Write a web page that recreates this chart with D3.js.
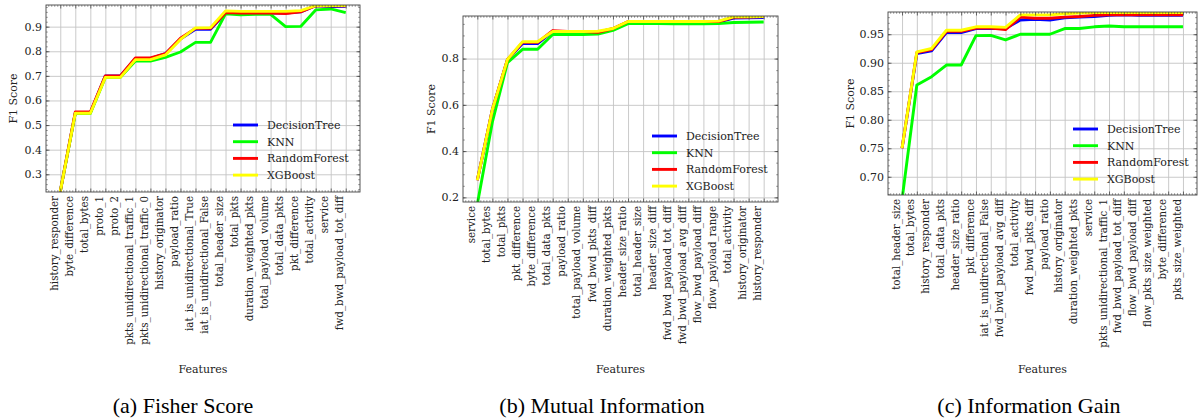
<!DOCTYPE html>
<html>
<head>
<meta charset="utf-8">
<script src="https://cdn.jsdelivr.net/npm/d3@7"></script>
<style>
  body { margin: 0; background: #fff; }
  svg { display: block; }
  svg text { font-family: 'DejaVu Serif', 'Liberation Serif', serif; fill: #222; }
</style>
</head>
<body>
<svg width="1198" height="420"></svg>
<script>
// (a) Fisher Score
const featuresFisher = ['history_responder', 'byte_difference', 'total_bytes', 'proto_1', 'proto_2',
  'pkts_unidirectional_traffic_1', 'pkts_unidirectional_traffic_0', 'history_originator', 'payload_ratio',
  'iat_is_unidirectional_True', 'iat_is_unidirectional_False', 'total_header_size', 'total_pkts',
  'duration_weighted_pkts', 'total_payload_volume', 'total_data_pkts', 'pkt_difference', 'total_activity',
  'service', 'fwd_bwd_payload_tot_diff']
const dtFisher = [0.23, 0.55, 0.55, 0.70, 0.70, 0.77, 0.77, 0.79, 0.85, 0.889, 0.889, 0.955, 0.955, 0.955, 0.955, 0.955, 0.96, 0.985, 0.982, 0.983]
const knnFisher = [0.23, 0.547, 0.547, 0.694, 0.694, 0.76, 0.76, 0.775, 0.797, 0.836, 0.836, 0.952, 0.948, 0.95, 0.95, 0.90, 0.901, 0.968, 0.972, 0.957]
const rfFisher = [0.23, 0.553, 0.553, 0.70, 0.70, 0.773, 0.773, 0.79, 0.853, 0.893, 0.893, 0.957, 0.955, 0.955, 0.955, 0.953, 0.96, 0.985, 0.985, 0.985]
const xgbFisher = [0.23, 0.548, 0.548, 0.694, 0.694, 0.766, 0.766, 0.785, 0.848, 0.895, 0.896, 0.964, 0.962, 0.962, 0.962, 0.962, 0.965, 0.985, 0.986, 0.986]
const ticksFisher = [0.3, 0.4, 0.5, 0.6, 0.7, 0.8, 0.9]

// (b) Mutual Information
const featuresMutual = ['service', 'total_bytes', 'total_pkts', 'pkt_difference', 'byte_difference',
  'total_data_pkts', 'payload_ratio', 'total_payload_volume', 'fwd_bwd_pkts_diff', 'duration_weighted_pkts',
  'header_size_ratio', 'total_header_size', 'header_size_diff', 'fwd_bwd_payload_tot_diff',
  'fwd_bwd_payload_avg_diff', 'flow_bwd_payload_diff', 'flow_payload_range', 'total_activity',
  'history_originator', 'history_responder']
const dtMutual = [0.274, 0.58, 0.795, 0.865, 0.865, 0.917, 0.917, 0.917, 0.915, 0.928, 0.958, 0.958, 0.958, 0.958, 0.958, 0.958, 0.958, 0.975, 0.976, 0.977]
const knnMutual = [0.17, 0.526, 0.782, 0.84, 0.84, 0.904, 0.904, 0.904, 0.906, 0.922, 0.951, 0.951, 0.951, 0.95, 0.95, 0.95, 0.951, 0.956, 0.957, 0.958]
const rfMutual = [0.274, 0.58, 0.796, 0.87, 0.87, 0.921, 0.917, 0.917, 0.913, 0.93, 0.96, 0.96, 0.96, 0.96, 0.96, 0.96, 0.96, 0.978, 0.979, 0.982]
const xgbMutual = [0.274, 0.58, 0.796, 0.873, 0.873, 0.917, 0.917, 0.917, 0.918, 0.93, 0.96, 0.96, 0.96, 0.96, 0.96, 0.96, 0.962, 0.98, 0.981, 0.982]
const ticksMutual = [0.2, 0.4, 0.6, 0.8]

// (c) Information Gain
const featuresGain = ['total_header_size', 'total_bytes', 'history_responder', 'total_data_pkts',
  'header_size_ratio', 'pkt_difference', 'iat_is_unidirectional_False', 'fwd_bwd_payload_avg_diff',
  'total_activity', 'fwd_bwd_pkts_diff', 'payload_ratio', 'history_originator', 'duration_weighted_pkts',
  'service', 'pkts_unidirectional_traffic_1', 'fwd_bwd_payload_tot_diff', 'flow_bwd_payload_diff',
  'flow_pkts_size_weighted', 'byte_difference', 'pkts_size_weighted']
const dtGain = [0.75, 0.916, 0.921, 0.953, 0.953, 0.96, 0.96, 0.96, 0.975, 0.976, 0.975, 0.979, 0.98, 0.981, 0.983, 0.984, 0.983, 0.983, 0.983, 0.983]
const knnGain = [0.66, 0.861, 0.8755, 0.896, 0.896, 0.9475, 0.948, 0.94, 0.95, 0.95, 0.95, 0.96, 0.96, 0.963, 0.9645, 0.963, 0.963, 0.963, 0.963, 0.963]
const rfGain = [0.75, 0.918, 0.923, 0.955, 0.955, 0.961, 0.961, 0.958, 0.98, 0.978, 0.978, 0.98, 0.981, 0.983, 0.984, 0.984, 0.984, 0.984, 0.984, 0.984]
const xgbGain = [0.75, 0.919, 0.925, 0.957, 0.957, 0.963, 0.963, 0.962, 0.984, 0.984, 0.984, 0.986, 0.987, 0.988, 0.988, 0.988, 0.988, 0.988, 0.988, 0.988]
const ticksGain = [0.70, 0.75, 0.80, 0.85, 0.90, 0.95]

const modelNames = ['DecisionTree', 'KNN', 'RandomForest', 'XGBoost']
const modelColors = ['#0000ff', '#00ff00', '#ff0000', '#ffff00']

const serif = "'DejaVu Serif', 'Liberation Serif', serif"
const svg = d3.select('svg')

const panels = [
  { id: 'a', caption: '(a) Fisher Score', features: featuresFisher, series: [dtFisher, knnFisher, rfFisher, xgbFisher],
    ticks: ticksFisher, fmt: '.1f', minor: 0.02, domain: [0.228, 0.988],
    left: 46, right: 360, top: 5, bottom: 192, legend: [233, 125], ylab: 13, capX: 183 },
  { id: 'b', caption: '(b) Mutual Information', features: featuresMutual, series: [dtMutual, knnMutual, rfMutual, xgbMutual],
    ticks: ticksMutual, fmt: '.1f', minor: 0.05, domain: [0.18, 0.984],
    left: 463, right: 778, top: 16, bottom: 202, legend: [652, 136], ylab: 431, capX: 602 },
  { id: 'c', caption: '(c) Information Gain', features: featuresGain, series: [dtGain, knnGain, rfGain, xgbGain],
    ticks: ticksGain, fmt: '.2f', minor: 0.01, domain: [0.668, 0.989],
    left: 888, right: 1197, top: 12, bottom: 195, legend: [1073, 129], ylab: 850, capX: 1029 }
]

panels.forEach(function(p) {
  const n = p.features.length
  const x = d3.scaleLinear().domain([-0.95, n - 1 + 0.95]).range([p.left, p.right])
  const y = d3.scaleLinear().domain(p.domain).range([p.bottom, p.top])
  const g = svg.append('g')
  const w = p.right - p.left
  const h = p.bottom - p.top

  svg.append('clipPath').attr('id', 'clip-' + p.id)
    .append('rect').attr('x', p.left).attr('y', p.top).attr('width', w).attr('height', h)

  // grid
  g.append('g')
    .attr('transform', `translate(0, ${p.bottom})`)
    .call(d3.axisBottom(x).tickValues(d3.range(n)).tickSize(-h).tickFormat(''))
    .call(a => a.select('.domain').remove())
    .selectAll('line').attr('stroke', '#c4c4c4').attr('stroke-width', 0.9)
  g.append('g')
    .attr('transform', `translate(${p.left}, 0)`)
    .call(d3.axisLeft(y).tickValues(p.ticks).tickSize(-w).tickFormat(''))
    .call(a => a.select('.domain').remove())
    .selectAll('line').attr('stroke', '#c4c4c4').attr('stroke-width', 0.9)

  // lines
  const line = d3.line().x((d, i) => x(i)).y(d => y(d))
  const lines = g.append('g').attr('clip-path', `url(#clip-${p.id})`)
  p.series.forEach(function(s, k) {
    lines.append('path')
      .datum(s)
      .attr('d', line)
      .attr('fill', 'none')
      .attr('stroke', modelColors[k])
      .attr('stroke-width', 2.9)
      .attr('stroke-linejoin', 'round')
  })

  // inward ticks on all four sides
  const minorY = d3.range(Math.ceil(p.domain[0] / p.minor) * p.minor, p.domain[1], p.minor)
  const minorX = d3.range(-0.8, n - 1 + 0.95, 0.2).filter(v => Math.abs(v - Math.round(v)) > 0.01)
  const tickAxes = [
    [d3.axisLeft(y), `translate(${p.left},0)`, p.ticks, minorY],
    [d3.axisRight(y), `translate(${p.right},0)`, p.ticks, minorY],
    [d3.axisBottom(x), `translate(0,${p.bottom})`, d3.range(n), minorX],
    [d3.axisTop(x), `translate(0,${p.top})`, d3.range(n), minorX]
  ]
  tickAxes.forEach(function(t) {
    g.append('g').attr('transform', t[1])
      .call(t[0].tickValues(t[2]).tickSize(-3.5).tickFormat(''))
      .call(a => a.select('.domain').remove())
      .selectAll('line').attr('stroke', '#333').attr('stroke-width', 0.7)
    g.append('g').attr('transform', t[1])
      .call(t[0].tickValues(t[3]).tickSize(-1.8).tickFormat(''))
      .call(a => a.select('.domain').remove())
      .selectAll('line').attr('stroke', '#333').attr('stroke-width', 0.5)
  })

  // frame
  g.append('rect')
    .attr('x', p.left).attr('y', p.top).attr('width', w).attr('height', h)
    .attr('fill', 'none').attr('stroke', '#444').attr('stroke-width', 0.9)

  // y tick labels
  g.selectAll('.ylab')
    .data(p.ticks)
    .enter()
    .append('text')
    .attr('x', p.left - 4)
    .attr('y', d => y(d))
    .attr('dy', '0.35em')
    .attr('text-anchor', 'end')
    .style('font-family', serif)
    .style('font-size', '11px')
    .text(d => d3.format(p.fmt)(d))

  // x tick labels, rotated
  g.selectAll('.xlab')
    .data(p.features)
    .enter()
    .append('text')
    .attr('transform', (d, i) => `translate(${x(i) - 6}, ${p.bottom + 4}) rotate(-90)`)
    .attr('dy', '0.35em')
    .attr('text-anchor', 'end')
    .style('font-family', serif)
    .style('font-size', '10.3px')
    .text(d => d)

  // axis titles
  g.append('text')
    .attr('transform', `translate(${p.ylab}, ${(p.top + p.bottom) / 2}) rotate(-90)`)
    .attr('dy', '0.35em')
    .attr('text-anchor', 'middle')
    .style('font-family', serif)
    .style('font-size', '11px')
    .text('F1 Score')
  g.append('text')
    .attr('x', (p.left + p.right) / 2)
    .attr('y', 373)
    .attr('text-anchor', 'middle')
    .style('font-family', serif)
    .style('font-size', '11px')
    .text('Features')

  // legend
  const lg = g.append('g').attr('transform', `translate(${p.legend[0]}, ${p.legend[1]})`)
  modelNames.forEach(function(name, k) {
    lg.append('line')
      .attr('x1', 0).attr('x2', 25)
      .attr('y1', k * 16.7).attr('y2', k * 16.7)
      .attr('stroke', modelColors[k]).attr('stroke-width', 2.9)
    lg.append('text')
      .attr('x', 34).attr('y', k * 16.7)
      .attr('dy', '0.35em')
      .style('font-family', serif)
      .style('font-size', '11px')
      .text(name)
  })

  // caption
  svg.append('text')
    .attr('x', p.capX)
    .attr('y', 413)
    .attr('text-anchor', 'middle')
    .style('font-family', "'Liberation Serif', 'Times New Roman', serif")
    .style('font-size', '22px')
    .style('fill', '#000')
    .text(p.caption)
})
</script>
</body>
</html>
